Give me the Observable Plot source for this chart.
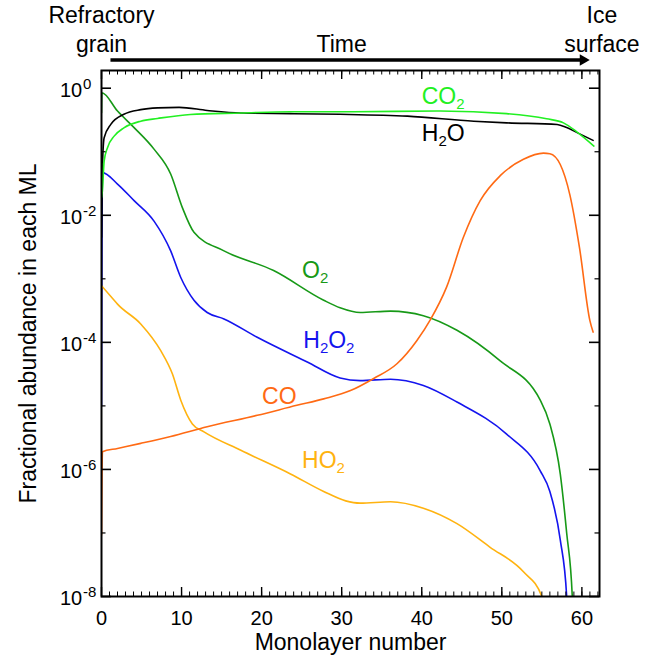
<!DOCTYPE html>
<html><head><meta charset="utf-8">
<script src="https://cdn.jsdelivr.net/npm/d3@7"></script>
<script src="https://cdn.jsdelivr.net/npm/@observablehq/plot@0.6"></script>
<style>html,body{margin:0;padding:0;background:#fff;}</style>
</head><body><div id="chart"></div>
<script>
// ---- data: [monolayer number, fractional abundance] ----
const H2O = [[0,4.5e-3],[0.08,0.04],[0.33,0.166],[1.16,0.27],[2.8,0.39],[4.9,0.46],[7.0,0.49],[9.7,0.50],[13.2,0.447],[17.4,0.407],[23.6,0.398],[29.8,0.389],[38.2,0.363],[46.5,0.302],[50.6,0.285],[56.9,0.269],[58.1,0.24],[59.4,0.20],[61.4,0.151]];
const CO2 = [[0,0.065],[0.04,0.019],[0.33,0.071],[0.75,0.116],[1.58,0.176],[2.8,0.238],[4.9,0.303],[7.0,0.334],[11.1,0.386],[17.4,0.407],[23.6,0.427],[31.1,0.427],[42.3,0.437],[50.6,0.398],[55.6,0.33],[57.7,0.285],[59.4,0.204],[61.5,0.123]];
const O2 = [[0,0.41],[0.05,0.85],[2.0,0.437],[4.07,0.24],[6.56,0.11],[8.64,0.0447],[10.1,0.0132],[11.55,5.4e-3],[15.3,2.75e-3],[21.5,1.35e-3],[27.75,4.6e-4],[29.8,3.5e-4],[32.3,2.95e-4],[36.1,3.1e-4],[40.2,2.63e-4],[44.4,1.55e-4],[49.8,5.1e-5],[54.8,1.23e-5],[56.0,5.2e-6],[57.3,8.5e-7],[58.1,1e-7],[58.8,1e-8],[59.3,1e-10]];
const H2O2 = [[0,1e-5],[0.12,0.047],[2.0,0.031],[4.07,0.017],[6.56,8.1e-3],[8.64,2.75e-3],[9.9,1.05e-3],[11.55,4.6e-4],[13.2,2.95e-4],[15.3,2.34e-4],[19.45,1.2e-4],[25.7,4.9e-5],[29.8,2.75e-5],[32.3,2.5e-5],[36.1,2.63e-5],[40.2,2.1e-5],[44.4,1.15e-5],[50.6,3.6e-6],[54.8,9.5e-7],[56.0,4.5e-7],[57.3,7.8e-8],[58.1,1e-8],[58.6,1e-10]];
const HO2 = [[0,7.8e-4],[1.58,4.6e-4],[2.0,4.0e-4],[4.9,1.95e-4],[7.4,7.4e-5],[8.85,3.2e-5],[9.9,1.23e-5],[11.35,5.2e-6],[12.8,3.9e-6],[17.4,2.0e-6],[23.6,8.5e-7],[27.75,4.5e-7],[30.5,3.2e-7],[32.3,2.95e-7],[36.1,3.1e-7],[40.2,2.45e-7],[44.4,1.4e-7],[48.5,6.0e-8],[52.7,2.45e-8],[55.0,1e-8],[56.0,1e-9]];
const CO = [[0,9.3e-8],[0.12,1.9e-6],[2.0,2.14e-6],[4.9,2.57e-6],[8.64,3.3e-6],[13.2,4.7e-6],[19.45,7.1e-6],[24.4,1.02e-5],[27.75,1.29e-5],[31.1,1.74e-5],[34.0,2.7e-5],[36.9,4.6e-5],[39.4,1.07e-4],[41.1,2.3e-4],[43.1,7.4e-4],[45.2,4.5e-3],[47.3,0.017],[49.8,0.042],[52.7,0.076],[55.2,0.095],[56.0,0.093],[57.3,0.063],[58.5,0.021],[59.7,3.1e-3],[61.0,2.2e-4],[61.4,1.45e-4]];

const seriesData = [H2O2, O2, HO2, CO, H2O, CO2];
const seriesColors = ["#1414ee", "#179917", "#ffb310", "#ff6a14", "#000000", "#22f022"];

// curve labels ("_" marks a subscript digit)
const labelText = ["CO_2", "H_2O", "O_2", "H_2O_2", "CO", "HO_2"];
const labelX = [40.0, 40.0, 25.05, 25.2, 20.05, 25.05];
const labelY = [0.75, 0.193, 1.34e-3, 1.07e-4, 1.38e-5, 1.39e-6];
const labelColors = ["#22f022", "#000000", "#179917", "#1414ee", "#ff6a14", "#ffb310"];

// axes
const xMajor = [0, 10, 20, 30, 40, 50, 60];
const xMinor = d3.range(0, 63, 1);
const yMajor = [1, 1e-2, 1e-4, 1e-6, 1e-8];
const yMinor = [1e-1, 1e-3, 1e-5, 1e-7];
const yExponents = ["0", "-2", "-4", "-6", "-8"];
const xTitle = "Monolayer number";
const yTitle = "Fractional abundance in each ML";

// top annotation
const topNotes = ["Refractory\ngrain", "Time", "Ice\nsurface"];
const topNoteX = [0, 30, 62.5];
const arrowX = [1.12, 60.15];
const arrowY = 2.78;

const W = 670, H = 659, ML = 101, MR = 71, MT = 70, MB = 63;
const frameW = W - ML - MR, frameH = H - MT - MB;
const font = "'Liberation Sans', Arial, Helvetica, sans-serif";

const marks = [];
seriesData.forEach((s, i) => {
  marks.push(Plot.line(s, {x: d => d[0], y: d => d[1], stroke: seriesColors[i], strokeWidth: 1.6, curve: "monotone-x", clip: true}));
});
marks.push(
  // inward ticks on all four sides
  Plot.tickX(xMajor, {x: d => d, insetTop: frameH - 9, stroke: "#000", strokeWidth: 1.4}),
  Plot.tickX(xMinor, {x: d => d, insetTop: frameH - 4.5, stroke: "#000", strokeWidth: 1}),
  Plot.tickX(xMajor, {x: d => d, insetBottom: frameH - 9, stroke: "#000", strokeWidth: 1.4}),
  Plot.tickX(xMinor, {x: d => d, insetBottom: frameH - 4.5, stroke: "#000", strokeWidth: 1}),
  Plot.tickY(yMajor, {y: d => d, insetRight: frameW - 10, stroke: "#000", strokeWidth: 1.6}),
  Plot.tickY(yMinor, {y: d => d, insetRight: frameW - 4.5, stroke: "#000", strokeWidth: 1.2}),
  Plot.tickY(yMajor, {y: d => d, insetLeft: frameW - 10, stroke: "#000", strokeWidth: 1.6}),
  Plot.tickY(yMinor, {y: d => d, insetLeft: frameW - 4.5, stroke: "#000", strokeWidth: 1.2}),
  Plot.frame({stroke: "#000", strokeWidth: 2}),
  Plot.axisX({anchor: "bottom", ticks: xMajor, tickSize: 0, tickPadding: 14, fontSize: 20, label: null, tickFormat: d => String(d)}),
  Plot.text(yMajor, {y: d => d, frameAnchor: "left", text: () => "10", textAnchor: "end", lineAnchor: "middle", dx: -19.3, dy: 2, fontSize: 20}),
  Plot.text(yMajor, {y: d => d, frameAnchor: "left", text: (d, i) => yExponents[i], textAnchor: "start", lineAnchor: "middle", dx: -18.6, dy: -4, fontSize: 15}),
  Plot.text([yTitle], {frameAnchor: "left", text: d => d, rotate: -90, textAnchor: "middle", lineAnchor: "middle", dx: -73, fontSize: 23}),
  Plot.text([xTitle], {frameAnchor: "bottom", text: d => d, textAnchor: "middle", lineAnchor: "middle", dy: 46, fontSize: 23}),
  Plot.text(labelText, {x: (d, i) => labelX[i], y: (d, i) => labelY[i], text: d => d, fill: (d, i) => labelColors[i], textAnchor: "start", lineAnchor: "middle", fontSize: 23}),
  Plot.text(topNotes, {x: (d, i) => topNoteX[i], text: d => d, frameAnchor: "top", textAnchor: "middle", lineAnchor: "bottom", lineHeight: 1.23, dy: -19, fontSize: 23}),
  Plot.link([arrowY], {x1: arrowX[0], x2: arrowX[1], y1: d => d, y2: d => d, stroke: "#000", strokeWidth: 3.3}),
  Plot.dot([arrowY], {x: arrowX[1], y: d => d, symbol: "triangle", rotate: 90, r: 4.3, fill: "#000", stroke: "none"})
);

const svg = Plot.plot({
  width: W, height: H,
  marginLeft: ML, marginRight: MR, marginTop: MT, marginBottom: MB,
  style: {fontFamily: font, background: "#fff", color: "#000", overflow: "visible"},
  x: {domain: [0, 62.2], label: null, axis: null},
  y: {type: "log", domain: [1e-8, 1.9], label: null, axis: null},
  color: {type: "identity"},
  marks
});
document.getElementById("chart").append(svg);

// turn "_2" into real subscript tspans
const NS = "http://www.w3.org/2000/svg";
d3.select(svg).selectAll("text").each(function () {
  const s = this.textContent;
  if (!s.includes("_") || this.querySelector("tspan")) return;
  this.textContent = "";
  let shifted = false;
  for (const part of s.split(/(_\d)/)) {
    if (!part) continue;
    const ts = document.createElementNS(NS, "tspan");
    if (part.startsWith("_")) {
      ts.textContent = part.slice(1);
      ts.setAttribute("font-size", 15);
      ts.setAttribute("dy", 5);
      shifted = true;
    } else {
      ts.textContent = part;
      if (shifted) { ts.setAttribute("dy", -5); shifted = false; }
    }
    this.appendChild(ts);
  }
});
</script>
</body></html>
